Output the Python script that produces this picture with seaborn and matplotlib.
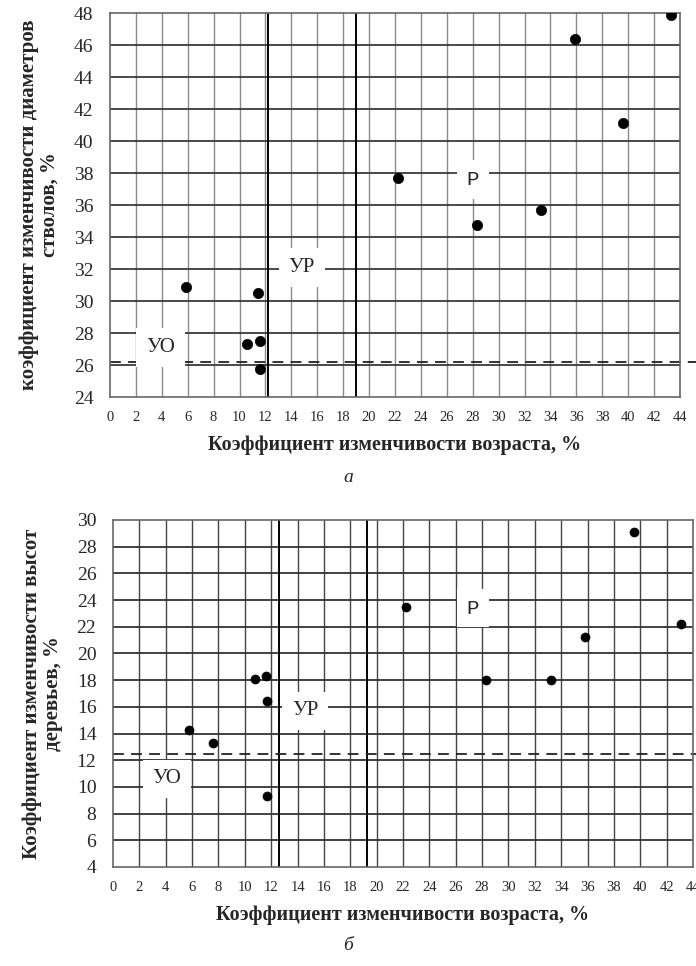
import matplotlib
matplotlib.use("Agg")
import matplotlib.pyplot as plt
import pandas as pd
import seaborn as sns

X_TICKS = list(range(0, 46, 2))

# panel "а": age CV vs stem diameter CV
AGE_CV_A = [5.9, 11.45, 10.6, 11.6, 11.6, 22.2, 28.3, 33.25, 35.9, 39.6, 43.3]
DIAM_CV = [30.9, 30.5, 27.3, 27.5, 25.75, 37.7, 34.75, 35.7, 46.35, 41.1, 47.9]
Y_TICKS_A = list(range(24, 49, 2))
VLINES_A = [12.2, 19.0]
HLINE_A = 26.2

# panel "б": age CV vs tree height CV
AGE_CV_B = [5.8, 7.6, 10.8, 11.6, 11.65, 11.65, 22.2, 28.3, 33.2, 35.8, 39.5, 43.1]
HEIGHT_CV = [14.3, 13.3, 18.1, 18.3, 16.4, 9.3, 23.45, 18.0, 18.0, 21.25, 29.1, 22.2]
Y_TICKS_B = list(range(4, 31, 2))
VLINES_B = [12.6, 19.3]
HLINE_B = 12.5

ZONE_NAMES = ["УО", "УР", "Р"]

XLABEL = "Коэффициент изменчивости возраста, %"
YLABEL_A = "коэффициент изменчивости диаметров\nстволов, %"
YLABEL_B = "Коэффициент изменчивости высот\nдеревьев, %"


def draw_panel(ax, x, y, yticks, vlines, hline, zone_pos, ylabel,
               hcolor, vcolor, dot_size):
    df = pd.DataFrame({"x": x, "y": y})
    ax.set_xlim(X_TICKS[0], X_TICKS[-1])
    ax.set_ylim(yticks[0], yticks[-1])
    for t in X_TICKS[1:-1]:
        ax.axvline(t, color=vcolor, lw=1.0, zorder=1)
    for t in yticks[1:-1]:
        ax.axhline(t, color=hcolor, lw=1.3, zorder=1)
    for v in vlines:
        ax.axvline(v, color="black", lw=1.4, zorder=2)
    ax.axhline(hline, xmin=0, xmax=1.03, color="#222222", lw=1.3,
               ls=(0, (6, 4)), clip_on=False, zorder=2)
    for name, (px, py) in zip(ZONE_NAMES, zone_pos):
        fam = ["Liberation Mono"] if name == "Р" else ["Liberation Serif"]
        ax.text(px, py, name, ha="center", va="center", fontsize=15,
                family=fam, zorder=3,
                bbox=dict(facecolor="white", edgecolor="none", pad=7))
    sns.scatterplot(data=df, x="x", y="y", ax=ax, color="black", s=dot_size,
                    edgecolor="black", linewidth=0.5, zorder=4)
    ax.set_xticks(X_TICKS)
    ax.set_yticks(yticks)
    ax.tick_params(axis="x", labelsize=10.5, length=0, pad=10)
    ax.tick_params(axis="y", labelsize=14, length=0, pad=12)
    for s in ax.spines.values():
        s.set_color("#666666")
        s.set_linewidth(1.2)
    ax.set_xlabel(XLABEL, fontsize=14.5, fontweight="bold", labelpad=8)
    ax.set_ylabel(ylabel, fontsize=15, fontweight="bold", labelpad=10,
                  linespacing=1.05)


def main() -> None:
    sns.set_theme(style="white")
    plt.rcParams["font.family"] = ["Liberation Serif", "DejaVu Serif"]

    fig = plt.figure(figsize=(6.96, 9.66), dpi=100)
    ax_a = fig.add_axes([0.158, 0.589, 0.819, 0.3975])
    ax_b = fig.add_axes([0.1624, 0.1025, 0.8333, 0.3592])

    draw_panel(ax_a, AGE_CV_A, DIAM_CV, Y_TICKS_A, VLINES_A, HLINE_A,
               [(3.9, 27.1), (14.8, 32.1), (28.0, 37.6)], YLABEL_A,
               "#3a3a3a", "#8a8a8a", 55)
    draw_panel(ax_b, AGE_CV_B, HEIGHT_CV, Y_TICKS_B, VLINES_B, HLINE_B,
               [(4.1, 10.6), (14.6, 15.7), (27.3, 23.4)], YLABEL_B,
               "#333333", "#444444", 42)

    fig.text(0.5, 1 - 478 / 966, "а", ha="center", va="center",
             fontsize=14, style="italic")
    fig.text(0.5, 1 - 945 / 966, "б", ha="center", va="center",
             fontsize=14, style="italic")

    fig.savefig("out.png", dpi=100)
    plt.close(fig)


if __name__ == "__main__":
    main()
